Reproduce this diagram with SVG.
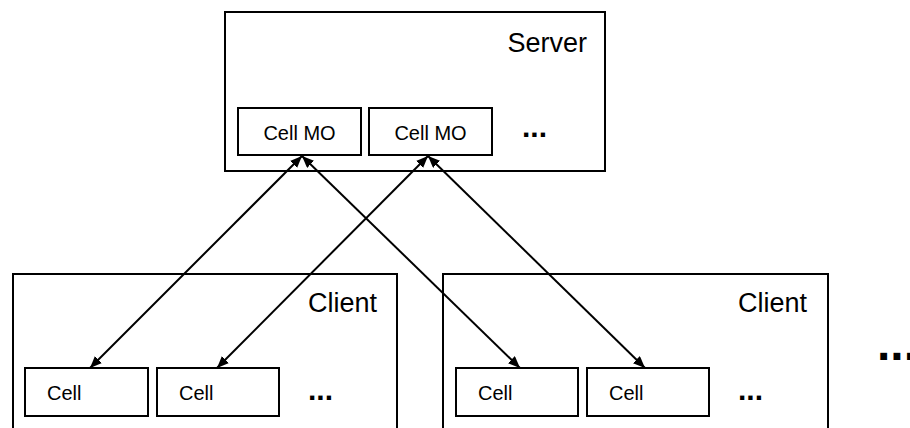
<svg xmlns="http://www.w3.org/2000/svg" width="910" height="428" viewBox="0 0 910 428">
<style>
.box{fill:#fff;stroke:#000;stroke-width:2}
.lbl{font-family:"Liberation Sans",Arial,sans-serif;fill:#000}
.big{font-size:27px}
.cell{font-size:20px}
.dots{font-family:"Liberation Sans",Arial,sans-serif;font-weight:bold;fill:#000}
.conn{stroke:#000;stroke-width:2;fill:none;marker-start:url(#ah);marker-end:url(#ah)}
</style>
<defs>
<marker id="ah" viewBox="0 0 12 10" refX="12" refY="5" markerWidth="12" markerHeight="10" markerUnits="userSpaceOnUse" orient="auto-start-reverse">
<path d="M0,0 L12,5 L0,10 z" fill="#000"/>
</marker>
</defs>
<rect width="910" height="428" fill="#fff"/>
<g id="server">
<rect class="box" x="225" y="12" width="380" height="159"/>
<text class="lbl big" x="587" y="52" text-anchor="end">Server</text>
<text class="dots" x="522" y="137" font-size="30">...</text>
</g>
<g id="cellmo1">
<rect class="box" x="238" y="108" width="123" height="47"/>
<text class="lbl cell" x="299.5" y="140" text-anchor="middle">Cell MO</text>
</g>
<g id="cellmo2">
<rect class="box" x="369" y="108" width="123" height="47"/>
<text class="lbl cell" x="430.5" y="140" text-anchor="middle">Cell MO</text>
</g>
<g id="client1">
<rect class="box" x="13" y="274" width="384" height="170"/>
<text class="lbl big" x="377" y="312" text-anchor="end">Client</text>
<text class="dots" x="308" y="400" font-size="30">...</text>
</g>
<g id="client1cell1">
<rect class="box" x="25" y="368" width="123" height="48"/>
<text class="lbl cell" x="47" y="400">Cell</text>
</g>
<g id="client1cell2">
<rect class="box" x="157" y="368" width="122" height="48"/>
<text class="lbl cell" x="179" y="400">Cell</text>
</g>
<g id="client2">
<rect class="box" x="443" y="274" width="385" height="170"/>
<text class="lbl big" x="807" y="312" text-anchor="end">Client</text>
<text class="dots" x="738" y="400" font-size="30">...</text>
</g>
<g id="client2cell1">
<rect class="box" x="456" y="368" width="122" height="48"/>
<text class="lbl cell" x="478" y="400">Cell</text>
</g>
<g id="client2cell2">
<rect class="box" x="587" y="368" width="122" height="48"/>
<text class="lbl cell" x="609" y="400">Cell</text>
</g>
<g id="more">
<text class="dots" x="877" y="360" font-size="48">...</text>
</g>
<g id="connectors">
<line class="conn" x1="302" y1="156" x2="90" y2="368"/>
<line class="conn" x1="428" y1="156" x2="217" y2="368"/>
<line class="conn" x1="302" y1="156" x2="520" y2="368"/>
<line class="conn" x1="428" y1="156" x2="645" y2="368"/>
</g>
</svg>
